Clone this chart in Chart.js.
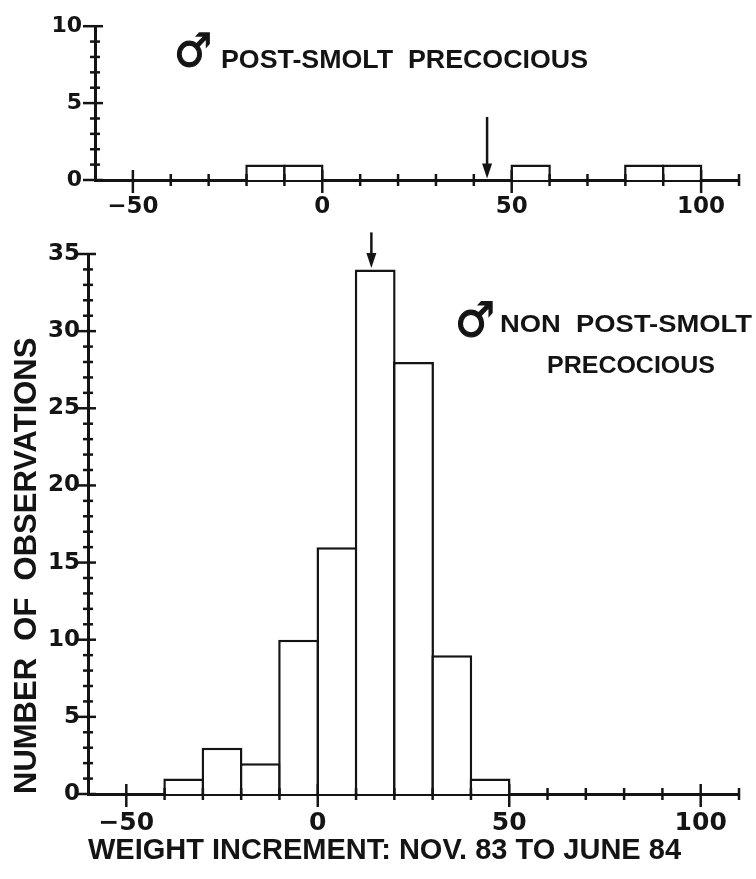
<!DOCTYPE html>
<html><head><meta charset="utf-8">
<script src="https://cdn.jsdelivr.net/npm/chart.js@4.4.0/dist/chart.umd.min.js"></script>
<style>
html,body{margin:0;padding:0;background:#fff;}
#wrap{position:relative;width:756px;height:879px;overflow:hidden;background:#fff;}
#c1{position:absolute;left:0;top:0;}
#c2{position:absolute;left:0;top:220px;}
</style></head><body>
<div id="wrap"><canvas id="c1" width="756" height="220"></canvas><canvas id="c2" width="756" height="659"></canvas></div>
<script>
// ---- data ----
const topBinCenters = [-15, -5, 55, 85, 95];
const topCounts = [1, 1, 1, 1, 1];
const bottomBinCenters = [-35, -25, -15, -5, 5, 15, 25, 35, 45];
const bottomCounts = [1, 3, 2, 10, 16, 34, 28, 9, 1];
const xTickValues = [-50, 0, 50, 100];
const topYTickValues = [0, 5, 10];
const bottomYTickValues = [0, 5, 10, 15, 20, 25, 30, 35];
const topMedianArrow = 43.5;
const bottomMedianArrow = 14;
const topLabel = 'POST-SMOLT  PRECOCIOUS';
const bottomLabel1 = 'NON  POST-SMOLT';
const bottomLabel2 = 'PRECOCIOUS';
const xTitle = 'WEIGHT INCREMENT: NOV. 83 TO JUNE 84';
const yTitle = 'NUMBER  OF  OBSERVATIONS';
const maleSign = '\u2642';

const INK = '#141414';
const tickFont = (s) => ({family: '"DejaVu Sans", sans-serif', weight: 'bold', size: s});
const fmt = (v) => v < 0 ? '\u2212' + Math.abs(v) : String(v);

const decor = {
  id: 'decor',
  afterDraw(chart, args, o) {
    const ctx = chart.ctx, xs = chart.scales.x, ys = chart.scales.y;
    const ax = chart.chartArea.left, ay = chart.chartArea.bottom;
    ctx.save();
    ctx.strokeStyle = INK; ctx.fillStyle = INK; ctx.lineWidth = 2.5; ctx.lineCap = 'butt';
    for (let v = ys.min; v <= ys.max; v += 1) {
      const py = ys.getPixelForValue(v);
      const major = v % 5 === 0;
      ctx.beginPath();
      ctx.moveTo(ax - (major ? 12 : 5), py);
      ctx.lineTo(ax + (major ? 8 : 5), py);
      ctx.stroke();
    }
    for (let v = -50; v <= xs.max; v += 10) {
      const px = xs.getPixelForValue(v);
      const major = v % 50 === 0;
      ctx.beginPath();
      ctx.moveTo(px, ay - (major ? 10 : 6));
      ctx.lineTo(px, ay + (major ? 13 : 6));
      ctx.stroke();
    }
    // arrow
    const px = xs.getPixelForValue(o.arrowX);
    const t0 = ys.getPixelForValue(o.arrowTail), t1 = ys.getPixelForValue(o.arrowTip);
    ctx.beginPath(); ctx.moveTo(px, t0); ctx.lineTo(px, t1 - 10); ctx.stroke();
    ctx.beginPath(); ctx.moveTo(px - 5, t1 - 15); ctx.lineTo(px + 5, t1 - 15); ctx.lineTo(px, t1); ctx.closePath(); ctx.fill();
    // annotation text
    for (const t of o.texts) {
      ctx.save();
      ctx.font = 'bold ' + t.size + 'px ' + t.family;
      ctx.textBaseline = 'alphabetic'; ctx.textAlign = 'left';
      const w = ctx.measureText(t.text).width;
      const sx = t.width ? t.width / w : 1;
      ctx.translate(t.x, t.y); ctx.scale(sx, 1);
      if (t.stroke) { ctx.lineWidth = t.stroke; ctx.strokeText(t.text, 0, 0); }
      ctx.fillText(t.text, 0, 0);
      ctx.restore();
    }
    ctx.restore();
  }
};

function makeChart(id, centers, counts, yMax, yTicks, cfg) {
  return new Chart(document.getElementById(id), {
    type: 'bar',
    data: {
      datasets: [{
        data: centers.map((c, i) => ({x: c, y: counts[i]})),
        backgroundColor: '#ffffff',
        borderColor: INK,
        borderWidth: 2.5,
        barPercentage: 1.066,
        categoryPercentage: 1,
        inflateAmount: 0
      }]
    },
    plugins: [decor],
    options: {
      responsive: false, animation: false, devicePixelRatio: 1,
      layout: {padding: cfg.padding},
      plugins: {legend: {display: false}, tooltip: {enabled: false}, decor: cfg.decor},
      scales: {
        x: {
          type: 'linear', min: -60, max: 110, z: 1, offset: false,
          afterBuildTicks: (s) => { s.ticks = xTickValues.map(v => ({value: v})); },
          afterFit: (s) => { s.height = cfg.xHeight; },
          grid: {display: false, drawTicks: false, offset: false},
          border: {display: true, color: INK, width: 3},
          ticks: {font: tickFont(cfg.xFont), color: INK, padding: cfg.xPad, maxRotation: 0, autoSkip: false, callback: fmt},
          title: cfg.xTitle || {display: false}
        },
        y: {
          type: 'linear', min: 0, max: yMax, z: 1,
          afterBuildTicks: (s) => { s.ticks = yTicks.map(v => ({value: v})); },
          afterFit: (s) => { s.width = cfg.yWidth; },
          grid: {display: false, drawTicks: false},
          border: {display: true, color: INK, width: 3},
          ticks: {font: tickFont(cfg.yFont), color: INK, padding: cfg.yPad, callback: fmt},
          title: cfg.yTitle || {display: false}
        }
      }
    }
  });
}

const titleFamily = '"Liberation Sans", Arial, sans-serif';

makeChart('c1', topBinCenters, topCounts, 10, topYTickValues, {
  padding: {left: 0, top: 25, right: 17, bottom: 0},
  xHeight: 40, yWidth: 95, xFont: 23, yFont: 22, xPad: 13, yPad: 13,
  decor: {
    arrowX: topMedianArrow, arrowTail: 4.1, arrowTip: 0.1,
    texts: [
      {text: maleSign, x: 174, y: 66, size: 46, width: 38, stroke: 1.2, family: '"DejaVu Sans"'},
      {text: topLabel, x: 221, y: 68, size: 25, width: 367, family: titleFamily}
    ]
  }
});

makeChart('c2', bottomBinCenters, bottomCounts, 35, bottomYTickValues, {
  padding: {left: 0, top: 34, right: 17, bottom: 0},
  xHeight: 85, yWidth: 88, xFont: 25, yFont: 23, xPad: 14, yPad: 8,
  xTitle: {display: true, text: xTitle, align: 'start', color: INK,
           font: {family: titleFamily, weight: 'bold', size: 29, lineHeight: 1.2}, padding: {top: 0, bottom: 11}},
  yTitle: {display: true, text: yTitle, align: 'start', color: INK,
           font: {family: titleFamily, weight: 'bold', size: 31, lineHeight: 1}, padding: {top: 12, bottom: 0}},
  decor: {
    arrowX: bottomMedianArrow, arrowTail: 36.4, arrowTip: 34.1,
    texts: [
      {text: maleSign, x: 455, y: 116, size: 48, width: 40, stroke: 1.2, family: '"DejaVu Sans"'},
      {text: bottomLabel1, x: 500, y: 112, size: 24, width: 252, family: titleFamily},
      {text: bottomLabel2, x: 547, y: 153, size: 23, width: 168, family: titleFamily}
    ]
  }
});
</script>
</body></html>
